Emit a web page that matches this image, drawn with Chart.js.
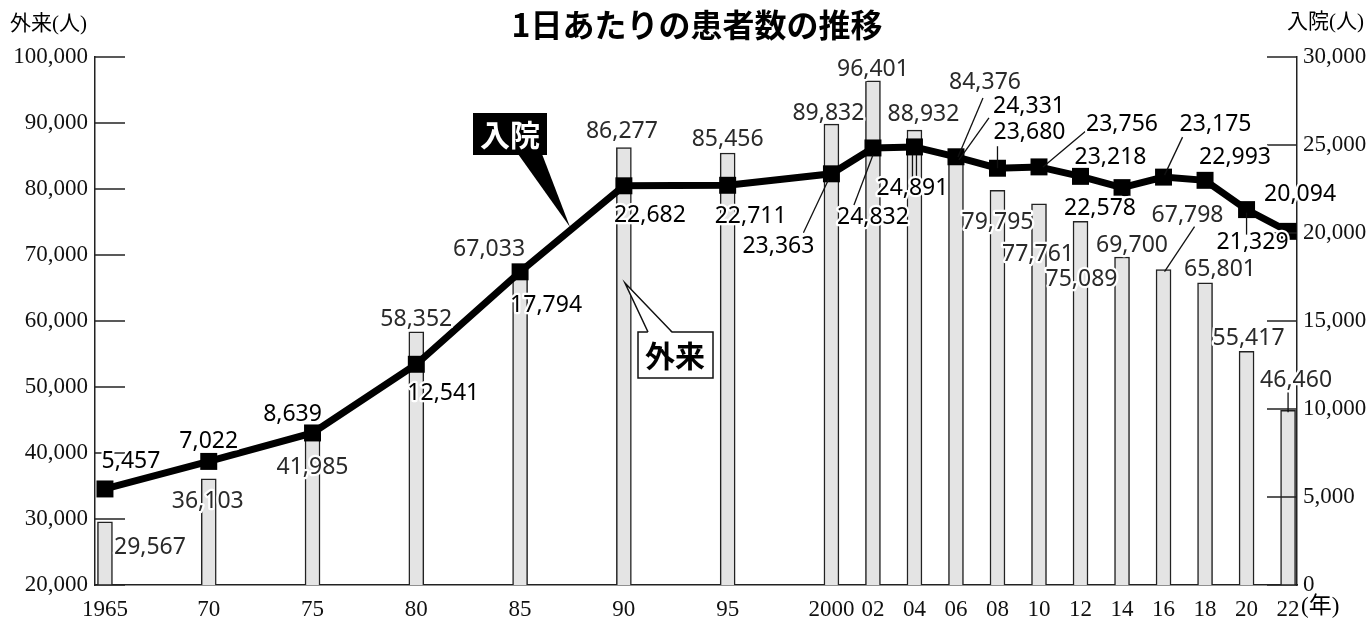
<!DOCTYPE html>
<html lang="ja">
<head>
<meta charset="utf-8">
<title>1日あたりの患者数の推移</title>
<script src="https://cdn.jsdelivr.net/npm/chart.js@4.4.1/dist/chart.umd.min.js"></script>
<style>
  html, body { margin: 0; padding: 0; background: #fff; }
  #wrap { width: 1372px; height: 629px; position: relative; }
</style>
</head>
<body>
<div id="wrap"><canvas id="chart"></canvas></div>
<script>
// ---- Daten ----
const years = [1965, 1970, 1975, 1980, 1985, 1990, 1995, 2000, 2002, 2004, 2006, 2008, 2010, 2012, 2014, 2016, 2018, 2020, 2022];
const yearLabels = ['1965', '70', '75', '80', '85', '90', '95', '2000', '02', '04', '06', '08', '10', '12', '14', '16', '18', '20', '22'];
const outpatients = [29567, 36103, 41985, 58352, 67033, 86277, 85456, 89832, 96401, 88932, 84376, 79795, 77761, 75089, 69700, 67798, 65801, 55417, 46460];
const inpatients = [5457, 7022, 8639, 12541, 17794, 22682, 22711, 23363, 24832, 24891, 24331, 23680, 23756, 23218, 22578, 23175, 22993, 21329, 20094];
const leftTicks = [20000, 30000, 40000, 50000, 60000, 70000, 80000, 90000, 100000];
const rightTicks = [0, 5000, 10000, 15000, 20000, 25000, 30000];

// Beschriftungs-Versatz (px) relativ zur Balkenoberkante bzw. zum Punkt
const barLabelOffset = [[45, 26], [-1, 23], [0, 28], [0, -12], [-31, -25], [-2, -16], [0, -14], [-3, -11], [0, -11], [9, -16], [29, -78], [0, 32], [-1, 51], [1, 58], [10, -12], [24, -54], [15, -13], [2, -13], [8, -30]];
const lineLabelOffset = [[26, -28], [0, -20], [-20, -19], [27, 29], [26, 34], [26, 30], [23, 31], [-53, 73], [0, 69], [-2, 42], [73, -50], [32, -36], [83, -42], [30, -19], [-22, 21], [52, -53], [30, -23], [6, 33], [12, -37]];
// Hinweislinien: [x1, y1, x2, y2] relativ zum Anker
const barLeaders = { 10: [[27, -62, 2, -3]], 15: [[31, -43, 1, 2]], 18: [[0, -18, 0, 2]] };
const lineLeaders = { 7: [[-28, 59, -3, 6]], 8: [[-19, 57, 0, 7]], 9: [[-2, 8, -2, 31], [2, 8, 2, 31]], 10: [[33, -39, 3, 3]], 11: [[0, -22, 0, 0]], 12: [[48, -37, 4, 0]], 15: [[19, -40, 1, -2]], 17: [[0, 3, 0, 25]] };

const SERIF = '"Liberation Serif", "DejaVu Serif", "Noto Sans CJK JP", serif';
const SANS = '"Noto Sans", "Liberation Sans", sans-serif';
const CJK = '"Noto Sans CJK JP", sans-serif';

function fmt(v) {
    return v.toLocaleString('en-US');
}

function haloText(ctx, text, x, y) {
    ctx.save();
    ctx.lineJoin = 'round';
    ctx.lineWidth = 4.5;
    ctx.strokeStyle = '#fff';
    ctx.strokeText(text, x, y);
    ctx.restore();
    ctx.fillText(text, x, y);
}

function drawLeaders(ctx, list, ax, ay) {
    if (!list) return;
    list.forEach(function (l) {
        ctx.beginPath();
        ctx.moveTo(ax + l[0], ay + l[1]);
        ctx.lineTo(ax + l[2], ay + l[3]);
        ctx.stroke();
    });
}

// Innenliegende Achsenstriche
const innenTicks = {
    id: 'innenTicks',
    afterDatasetsDraw: function (chart) {
        const ctx = chart.ctx;
        const l = chart.scales.y;
        const r = chart.scales.y2;
        ctx.save();
        ctx.strokeStyle = '#222';
        ctx.lineWidth = 1.5;
        l.ticks.forEach(function (t) {
            const y = l.getPixelForValue(t.value);
            ctx.beginPath();
            ctx.moveTo(l.right, y);
            ctx.lineTo(l.right + 30, y);
            ctx.stroke();
        });
        r.ticks.forEach(function (t) {
            const y = r.getPixelForValue(t.value);
            ctx.beginPath();
            ctx.moveTo(r.left - 30, y);
            ctx.lineTo(r.left, y);
            ctx.stroke();
        });
        ctx.restore();
    }
};

// Werte, Titel, Callouts
const beschriftung = {
    id: 'beschriftung',
    afterDraw: function (chart) {
        const ctx = chart.ctx;
        const bars = chart.getDatasetMeta(0).data;
        const pts = chart.getDatasetMeta(1).data;
        ctx.save();

        // Hinweislinien
        ctx.strokeStyle = '#111';
        ctx.lineWidth = 1.3;
        bars.forEach(function (el, i) { drawLeaders(ctx, barLeaders[i], el.x, el.y); });
        pts.forEach(function (el, i) { drawLeaders(ctx, lineLeaders[i], el.x, el.y); });

        ctx.textAlign = 'center';
        ctx.textBaseline = 'middle';
        ctx.font = '23px ' + SANS;
        ctx.fillStyle = '#2a2a2a';
        bars.forEach(function (el, i) {
            haloText(ctx, fmt(outpatients[i]), el.x + barLabelOffset[i][0], el.y + barLabelOffset[i][1]);
        });
        ctx.fillStyle = '#000';
        pts.forEach(function (el, i) {
            haloText(ctx, fmt(inpatients[i]), el.x + lineLabelOffset[i][0], el.y + lineLabelOffset[i][1]);
        });

        // Titel
        ctx.font = 'bold 32px ' + CJK;
        ctx.fillStyle = '#000';
        ctx.fillText('1日あたりの患者数の推移', 697, 25);

        // Achsentitel
        ctx.font = '21px ' + SERIF;
        ctx.textAlign = 'left';
        ctx.fillText('外来(人)', 10, 24);
        ctx.textAlign = 'right';
        ctx.fillText('入院(人)', 1364, 22);
        ctx.textAlign = 'left';
        const xs = chart.scales.x;
        ctx.font = '23px ' + SERIF;
        ctx.fillText('(年)', xs.getPixelForValue(2022) + 13, 607);

        // Callout 入院
        ctx.fillStyle = '#000';
        ctx.fillRect(473, 113, 74, 42);
        ctx.beginPath();
        ctx.moveTo(518, 154);
        ctx.lineTo(542, 154);
        ctx.lineTo(570, 227);
        ctx.closePath();
        ctx.fill();
        ctx.fillStyle = '#fff';
        ctx.textAlign = 'center';
        ctx.font = 'bold 30px ' + CJK;
        ctx.fillText('入院', 510, 135);

        // Callout 外来
        ctx.fillStyle = '#fff';
        ctx.strokeStyle = '#111';
        ctx.lineWidth = 1.5;
        ctx.fillRect(638, 332, 75, 46);
        ctx.strokeRect(638, 332, 75, 46);
        ctx.beginPath();
        ctx.moveTo(648, 333);
        ctx.lineTo(625, 283);
        ctx.lineTo(672, 333);
        ctx.closePath();
        ctx.fill();
        ctx.beginPath();
        ctx.moveTo(648, 332);
        ctx.lineTo(625, 283);
        ctx.lineTo(672, 332);
        ctx.stroke();
        ctx.fillStyle = '#000';
        ctx.fillText('外来', 675, 356);

        ctx.restore();
    }
};

new Chart(document.querySelector('#chart'), {
    data: {
        datasets: [
            {
                type: 'bar',
                label: '外来',
                data: years.map(function (y, i) { return { x: y, y: outpatients[i] }; }),
                yAxisID: 'y',
                backgroundColor: '#e4e4e4',
                borderColor: '#222',
                borderWidth: 1.5,
                barThickness: 15,
                order: 1
            },
            {
                type: 'line',
                label: '入院',
                data: years.map(function (y, i) { return { x: y, y: inpatients[i] }; }),
                yAxisID: 'y2',
                borderColor: '#000',
                borderWidth: 7,
                tension: 0,
                pointStyle: 'rect',
                pointRadius: 12,
                pointBackgroundColor: '#000',
                pointBorderWidth: 0,
                order: 0
            }
        ]
    },
    options: {
        responsive: true,
        maintainAspectRatio: false,
        animation: false,
        layout: { padding: { top: 57, left: 0, right: 0, bottom: 0 } },
        plugins: { legend: { display: false }, tooltip: { enabled: false } },
        scales: {
            x: {
                type: 'linear',
                offset: false,
                min: 1964.52,
                max: 2022.43,
                afterBuildTicks: function (s) { s.ticks = years.map(function (v) { return { value: v }; }); },
                afterFit: function (s) { s.height = 44; },
                ticks: {
                    autoSkip: false,
                    maxRotation: 0,
                    padding: 11,
                    color: '#111',
                    font: { family: SERIF, size: 23 },
                    callback: function (v, i) { return yearLabels[i]; }
                },
                grid: { display: false, drawTicks: false, offset: false },
                border: { display: true, color: '#222', width: 1.5 }
            },
            y: {
                position: 'left',
                min: 20000,
                max: 100000,
                afterBuildTicks: function (s) { s.ticks = leftTicks.map(function (v) { return { value: v }; }); },
                afterFit: function (s) { s.width = 95; },
                ticks: {
                    padding: 7,
                    color: '#111',
                    font: { family: SERIF, size: 23 },
                    callback: function (v) { return fmt(v); }
                },
                grid: { display: false, drawTicks: false },
                border: { display: true, color: '#222', width: 1.5 }
            },
            y2: {
                position: 'right',
                min: 0,
                max: 30000,
                afterBuildTicks: function (s) { s.ticks = rightTicks.map(function (v) { return { value: v }; }); },
                afterFit: function (s) { s.width = 75; },
                ticks: {
                    padding: 6,
                    color: '#111',
                    font: { family: SERIF, size: 23 },
                    callback: function (v) { return fmt(v); }
                },
                grid: { display: false, drawTicks: false },
                border: { display: true, color: '#222', width: 1.5 }
            }
        }
    },
    plugins: [innenTicks, beschriftung]
});
</script>
</body>
</html>
